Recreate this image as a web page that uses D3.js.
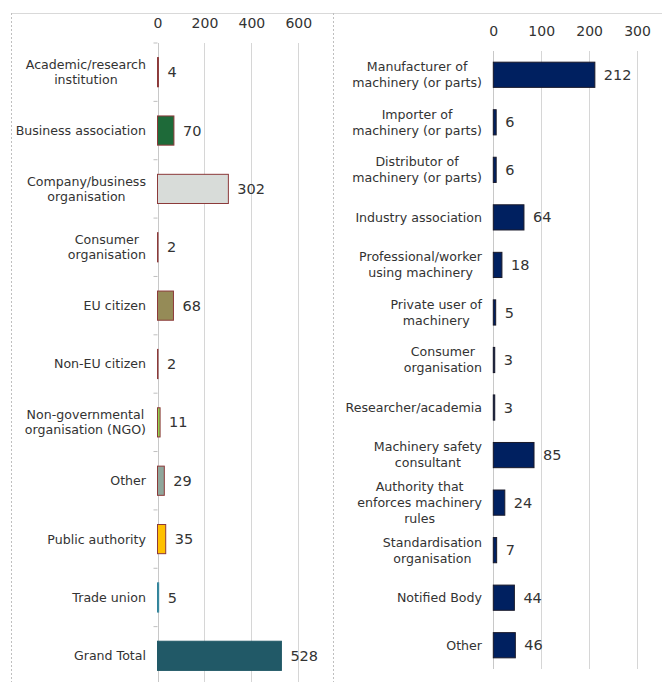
<!DOCTYPE html>
<html><head><meta charset="utf-8">
<script src="https://cdn.jsdelivr.net/npm/d3@7"></script>
<style>
html,body{margin:0;padding:0;background:#fff;}
svg{display:block;font-family:"DejaVu Sans",Verdana,sans-serif;}
</style></head>
<body><svg id="c" width="662" height="682"></svg>
<script>
// ---- Data ----
const leftCategories = ["Academic/research\ninstitution","Business association","Company/business\norganisation","Consumer\norganisation","EU citizen","Non-EU citizen","Non-governmental\norganisation (NGO)","Other","Public authority","Trade union","Grand Total"];
const leftValues = [4,70,302,2,68,2,11,29,35,5,528];
const leftColors = ["#C0504D","#1E6A39","#D8DCD9","#C0504D","#958B57","#C0504D","#92D050","#8FA69B","#FFC000","#31849B","#215967"];
const leftBorders = ["#8C3A3A","#8C3A3A","#8C3A3A","#8C3A3A","#8C3A3A","#8C3A3A","#8C3A3A","#8C3A3A","#8C3A3A","#31849B","#215967"];
const leftTicks = [0,200,400,600];

const rightCategories = ["Manufacturer of\nmachinery (or parts)","Importer of\nmachinery (or parts)","Distributor of\nmachinery (or parts)","Industry association","Professional/worker\nusing machinery","Private user of\nmachinery","Consumer\norganisation","Researcher/academia","Machinery safety\nconsultant","Authority that\nenforces machinery\nrules","Standardisation\norganisation","Notified Body","Other"];
const rightValues = [212,6,6,64,18,5,3,3,85,24,7,44,46];
const rightTicks = [0,100,200,300];

// ---- Drawing ----
const svg = d3.select("#c");
const textColor = "#333";

// frame
svg.append("line").attr("x1",11).attr("x2",662).attr("y1",13.5).attr("y2",13.5).attr("stroke","#D9D9D9");
svg.append("line").attr("x1",11.5).attr("x2",11.5).attr("y1",13).attr("y2",682).attr("stroke","#BFBFBF").attr("stroke-dasharray","2,2");
svg.append("line").attr("x1",333.5).attr("x2",333.5).attr("y1",13).attr("y2",682).attr("stroke","#BFBFBF").attr("stroke-dasharray","2,2");

function drawLabel(g, text, xRight, yc, lh, fs){
  const lines = text.split("\n");
  const t = g.append("text").attr("font-size",fs).attr("fill",textColor).attr("text-anchor","middle");
  const tsp = lines.map((l,i)=>t.append("tspan").text(l));
  const widths = tsp.map(s=>s.node().getComputedTextLength());
  const bw = d3.max(widths);
  const cx = xRight - bw/2;
  const y0 = yc - (lines.length-1)*lh/2;
  tsp.forEach((s,i)=>s.attr("x",cx).attr("y",y0+i*lh).attr("dy","0.35em"));
}

function panel(opts){
  const {cats, vals, ticks, xDomain, xRange, yRange, pad, colors, borders, tickY, gridTop, gridBottom, labelRight, lh, showTicks} = opts;
  const g = svg.append("g");
  const x = d3.scaleLinear().domain(xDomain).range(xRange);
  const y = d3.scaleBand().domain(d3.range(cats.length)).range(yRange).paddingInner(pad).paddingOuter(pad/2);
  // grid
  g.selectAll(".grid").data(ticks).enter().append("line")
    .attr("x1",d=>Math.round(x(d))+0.5).attr("x2",d=>Math.round(x(d))+0.5)
    .attr("y1",gridTop).attr("y2",gridBottom)
    .attr("stroke",(d,i)=>i===0?"#C8C8C8":"#D6D6D6");
  // top axis
  const ax = d3.axisTop(x).tickValues(ticks).tickSize(0).tickPadding(0).tickFormat(d3.format("d"));
  const axg = g.append("g").attr("transform",`translate(0,${tickY})`).call(ax);
  axg.select(".domain").remove();
  axg.selectAll("text").attr("font-size",14).attr("fill",textColor).attr("dy","0.35em").attr("font-family","DejaVu Sans, Verdana, sans-serif");
  // category tick marks
  if(showTicks){
    const step = y.step();
    g.selectAll(".ct").data(d3.range(cats.length+1)).enter().append("line")
      .attr("x1",x(0)-4).attr("x2",x(0))
      .attr("y1",d=>yRange[0]+d*step).attr("y2",d=>yRange[0]+d*step)
      .attr("stroke","#BFBFBF");
  }
  // bars
  g.selectAll(".bar").data(vals).enter().append("rect")
    .attr("x",x(0)).attr("y",(d,i)=>y(i))
    .attr("width",d=>Math.max(0,x(d)-x(0))).attr("height",y.bandwidth())
    .attr("fill",(d,i)=>colors[i]).attr("stroke",(d,i)=>borders[i]).attr("stroke-width",1);
  // values
  g.selectAll(".val").data(vals).enter().append("text")
    .attr("x",d=>x(d)+9).attr("y",(d,i)=>y(i)+y.bandwidth()/2).attr("dy","0.35em")
    .attr("font-size",14.5).attr("fill",textColor).text(d=>d);
  // category labels
  cats.forEach((c,i)=>drawLabel(g,c,labelRight,y(i)+y.bandwidth()/2,lh,12.6));
}

panel({cats:leftCategories, vals:leftValues, ticks:leftTicks, xDomain:[0,600], xRange:[157.5,298.3],
  yRange:[43,685], pad:0.5, colors:leftColors, borders:leftBorders, tickY:23,
  gridTop:43, gridBottom:682, labelRight:146, lh:15, showTicks:true});

panel({cats:rightCategories, vals:rightValues, ticks:rightTicks, xDomain:[0,300], xRange:[493.3,637],
  yRange:[51,669], pad:0.47, colors:rightValues.map(()=>"#002060"), borders:rightValues.map(()=>"#1a1a2a"), tickY:31,
  gridTop:51, gridBottom:669, labelRight:482, lh:16, showTicks:false});
</script>
</body></html>
